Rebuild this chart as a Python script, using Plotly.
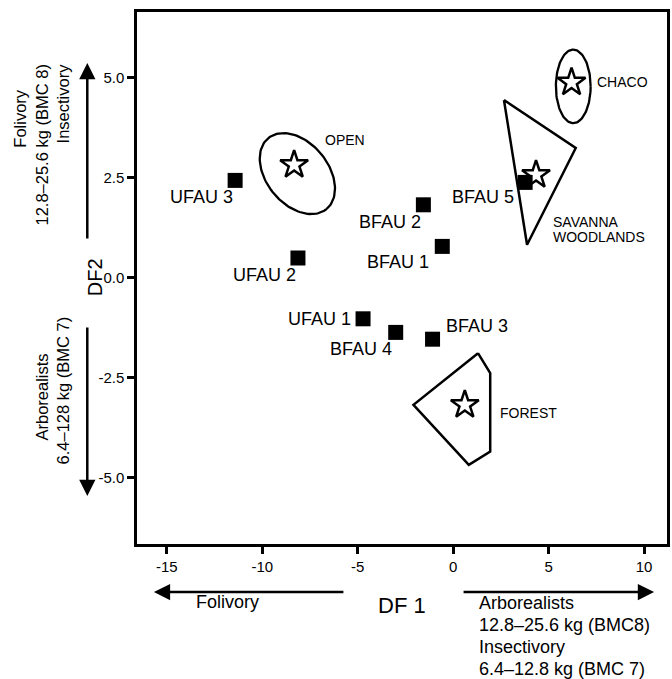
import numpy as np
import plotly.graph_objects as go

# ---------------- data ----------------
site_labels = ["UFAU 1", "UFAU 2", "UFAU 3", "BFAU 1", "BFAU 2", "BFAU 3", "BFAU 4", "BFAU 5"]
site_df1 = [-4.72, -8.13, -11.42, -0.57, -1.56, -1.08, -3.01, 3.77]
site_df2 = [-1.03, 0.49, 2.43, 0.78, 1.82, -1.54, -1.37, 2.38]

habitat_names = ["OPEN", "CHACO", "SAVANNA WOODLANDS", "FOREST"]
centroid_df1 = [-8.33, 6.20, 4.34, 0.61]
centroid_df2 = [2.82, 4.88, 2.57, -3.18]

savanna_hull_df1 = [2.66, 6.42, 3.87]
savanna_hull_df2 = [4.44, 3.24, 0.82]
forest_hull_df1 = [1.30, 1.94, 1.94, 0.82, -2.08]
forest_hull_df2 = [-1.89, -2.39, -4.35, -4.68, -3.18]

# ellipse: centre, conjugate semi-axis vectors (df1, df2)
open_ell_center = [-8.16, 2.60]
open_ell_u = [1.54, -0.88]
open_ell_v = [1.23, 0.50]
chaco_ell_center = [6.29, 4.78]
chaco_ell_u = [0.91, 0.0]
chaco_ell_v = [0.0, 0.92]

x_ticks = [-15, -10, -5, 0, 5, 10]
y_ticks = [5.0, 2.5, 0.0, -2.5, -5.0]

# ---------------- layout geometry ----------------
W, H = 672, 679
L, R, T, B = 137, 2, 12, 135
PW, PH = W - L - R, H - T - B
FONT = "Liberation Sans, Arial, Helvetica, sans-serif"


def px(x):
    return (x - L) / PW


def py(y):
    return (H - B - y) / PH


fig = go.Figure()

# hulls
for hx, hy in [(savanna_hull_df1, savanna_hull_df2), (forest_hull_df1, forest_hull_df2)]:
    fig.add_trace(go.Scatter(x=list(hx) + [hx[0]], y=list(hy) + [hy[0]], mode="lines",
                             line=dict(color="black", width=2.5), hoverinfo="skip", showlegend=False))

# ellipses
t = np.linspace(0, 2 * np.pi, 121)
for c, u, v in [(open_ell_center, open_ell_u, open_ell_v), (chaco_ell_center, chaco_ell_u, chaco_ell_v)]:
    ex = c[0] + u[0] * np.cos(t) + v[0] * np.sin(t)
    ey = c[1] + u[1] * np.cos(t) + v[1] * np.sin(t)
    fig.add_trace(go.Scatter(x=ex, y=ey, mode="lines", line=dict(color="black", width=2.3),
                             hoverinfo="skip", showlegend=False))

# site squares
fig.add_trace(go.Scatter(x=site_df1, y=site_df2, mode="markers",
                         marker=dict(symbol="square", size=15, color="black"),
                         showlegend=False))

# habitat centroids (open stars)
fig.add_trace(go.Scatter(x=centroid_df1, y=centroid_df2, mode="markers",
                         marker=dict(symbol="star-open", size=21, color="black",
                                     line=dict(width=2.5, color="black")),
                         showlegend=False))

ann = []

# site labels: (xanchor, xshift, yshift)
site_label_pos = {
    "UFAU 1": ("right", -10, 0),
    "UFAU 2": ("right", 0, -17),
    "UFAU 3": ("right", 0, -17),
    "BFAU 1": ("right", -11, -16),
    "BFAU 2": ("right", 0, -17),
    "BFAU 3": ("left", 11, 13),
    "BFAU 4": ("right", -2, -17),
    "BFAU 5": ("right", -9, -15),
}
for lab, x, y in zip(site_labels, site_df1, site_df2):
    xa, xs, ys = site_label_pos[lab]
    ann.append(dict(x=x, y=y, xref="x", yref="y", text=lab, showarrow=False,
                    xanchor=xa, yanchor="middle", xshift=xs, yshift=ys,
                    font=dict(family=FONT, size=18, color="black")))

# habitat labels relative to centroids
hab_label_pos = {
    "OPEN": [("OPEN", 29, 25)],
    "CHACO": [("CHACO", 23, 0)],
    "SAVANNA WOODLANDS": [("SAVANNA", 15, -47), ("WOODLANDS", 15, -62)],
    "FOREST": [("FOREST", 33, -8)],
}
for name, x, y in zip(habitat_names, centroid_df1, centroid_df2):
    for txt_, xs, ys in hab_label_pos[name]:
        ann.append(dict(x=x, y=y, xref="x", yref="y", text=txt_, showarrow=False,
                        xanchor="left", yanchor="middle", xshift=xs, yshift=ys,
                        font=dict(family=FONT, size=14, color="black")))

# axis titles
ann.append(dict(x=px(403), y=py(605), xref="paper", yref="paper", text="DF 1", showarrow=False,
                xanchor="center", yanchor="middle", font=dict(family=FONT, size=22, color="black")))
ann.append(dict(x=px(95), y=py(277), xref="paper", yref="paper", text="DF2", showarrow=False,
                textangle=-90, xanchor="center", yanchor="middle",
                font=dict(family=FONT, size=20, color="black")))


# arrows
def arrow(tip, tail):
    return dict(x=px(tip[0]), y=py(tip[1]), xref="paper", yref="paper", text="",
                showarrow=True, ax=tail[0] - tip[0], ay=tail[1] - tip[1],
                arrowhead=2, arrowsize=1.3, arrowwidth=2.5, arrowcolor="black")


ann.append(arrow((154, 592), (345, 592)))
ann.append(arrow((657, 592), (465, 592)))
ann.append(arrow((87, 63), (87, 240)))
ann.append(arrow((87, 496), (87, 326)))


# free texts
def txt(s, x, y, xa="left", angle=0, size=18):
    return dict(x=px(x), y=py(y), xref="paper", yref="paper", text=s, showarrow=False,
                xanchor=xa, yanchor="middle", textangle=angle,
                font=dict(family=FONT, size=size, color="black"))


ann.append(txt("Folivory", 228, 602, xa="center"))
ann.append(txt("Arborealists", 479, 603))
ann.append(txt("12.8\u201325.6 kg (BMC8)", 479, 625))
ann.append(txt("Insectivory", 479, 647))
ann.append(txt("6.4\u201312.8 kg (BMC 7)", 479, 669))

# left rotated texts
ann.append(txt("Folivory", 19, 118, xa="center", angle=-90, size=16.5))
ann.append(txt("12.8\u201325.6 kg (BMC 8)", 41, 145, xa="center", angle=-90, size=16.5))
ann.append(txt("Insectivory", 63, 103, xa="center", angle=-90, size=16.5))
ann.append(txt("Arborealists", 41, 397, xa="center", angle=-90, size=16.5))
ann.append(txt("6.4\u2013128 kg (BMC 7)", 63, 390, xa="center", angle=-90, size=16.5))

fig.update_layout(
    width=W, height=H,
    margin=dict(l=L, r=R, t=T, b=B),
    paper_bgcolor="white", plot_bgcolor="white",
    annotations=ann,
    showlegend=False,
    font=dict(family=FONT, color="black"),
)
fig.update_xaxes(range=[-16.56, 11.2], tickvals=x_ticks, ticktext=[str(v) for v in x_ticks],
                 showgrid=False, zeroline=False, showline=True, mirror=True, linecolor="black",
                 linewidth=2.5, ticks="outside", ticklen=7, tickwidth=2.5, tickcolor="black",
                 tickfont=dict(family=FONT, size=15, color="black"))
fig.update_yaxes(range=[-6.66, 6.64], tickvals=y_ticks, ticktext=[f"{v:.1f}" for v in y_ticks],
                 showgrid=False, zeroline=False, showline=True, mirror=True, linecolor="black",
                 linewidth=2.5, ticks="outside", ticklen=7, tickwidth=2.5, tickcolor="black",
                 tickfont=dict(family=FONT, size=15, color="black"))

fig.write_html("out.html", config={"displayModeBar": False},
               post_script="document.body.style.margin='0px';document.body.style.padding='0px';"
                           "document.documentElement.style.overflow='hidden';")
